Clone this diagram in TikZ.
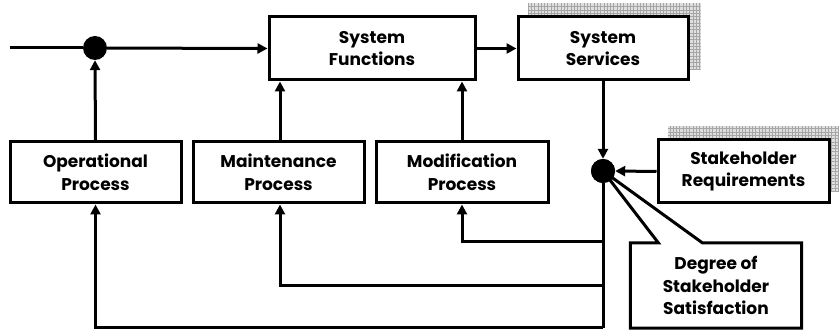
\documentclass[tikz,border=0pt]{standalone}
\usepackage{fontspec}
\setmainfont{Poppins}
\usetikzlibrary{arrows.meta,backgrounds}

\tikzset{
  label font/.style={font=\fontsize{17}{22.5}\selectfont\bfseries},
  box/.style={draw, line width=3pt, fill=white, align=center, label font, inner sep=0pt},
  plainbox/.style={align=center, label font, inner sep=0pt},
  junction/.style={circle, fill=black, minimum size=24pt, inner sep=0pt},
  flow/.style={line width=3pt, -{Triangle[length=10pt,width=10pt]}},
  wire/.style={line width=3pt},
  shade/.style={fill=gray!25},
  hatch/.style={draw=gray!70, line width=0.7pt},
}

\begin{document}
\begin{tikzpicture}[x=1pt, y=-1pt]
  \useasboundingbox (0,0) rectangle (839,331);

  % main blocks
  \node[box, minimum width=206pt, minimum height=63pt] (sf) at (372,48.5) {System\\Functions};
  \node[box, minimum width=170pt, minimum height=63pt] (ss) at (603,48.5) {System\\Services};
  \node[box, minimum width=171pt, minimum height=61pt] (op) at (95.5,172.5) {Operational\\Process};
  \node[box, minimum width=171pt, minimum height=61pt] (mt) at (278.5,172.5) {Maintenance\\Process};
  \node[box, minimum width=172pt, minimum height=61pt] (md) at (462,172.5) {Modification\\Process};
  \node[box, minimum width=171pt, minimum height=63pt] (sr) at (743.5,171.5) {Stakeholder\\Requirements};
  \node[plainbox, minimum width=171pt, minimum height=85pt] (ds) at (716,285.5) {};

  % summing junctions
  \node[junction] (j1) at (95,48) {};
  \node[junction] (j2) at (603,171) {};
  \coordinate (in) at (10,48);
  \coordinate (mx) at (280,0);

  % hatched drop shadows
  \begin{scope}[on background layer]
    \foreach \b in {ss,sr}{
      \coordinate (a) at ([shift={(11,-12)}]\b.south west);
      \coordinate (c) at ([shift={(11,-12)}]\b.north east);
      \fill[shade] (a) rectangle (c);
      \begin{scope}
        \clip (a) rectangle (c);
        \draw[hatch, step=3.3pt] (a) grid (c);
      \end{scope}
    }
  \end{scope}

  % callout outline for the satisfaction box
  \coordinate (p1) at ([xshift=28pt]ds.north west);
  \coordinate (p2) at ([xshift=72pt]ds.north west);
  \draw[wire, line join=miter, fill=white]
    (ds.north west) -- (p1) -- (j2.center) -- (p2) -- (ds.north east)
    -- (ds.south east) -- (ds.south west) -- cycle;
  \node[plainbox] at (ds) {Degree of\\Stakeholder\\Satisfaction};

  % forward path
  \draw[wire] (in) -- (j1);
  \draw[flow] (j1) -- (sf.west);
  \draw[flow] (sf.east) -- (ss.west);
  \draw[flow] (ss.south) -- (j2.north);
  \draw[flow] (sr.west) -- (j2.east);

  % process inputs
  \draw[flow] (op.north) -- (j1.south);
  \draw[flow] (mt.north -| mx) -- (sf.south -| mx);
  \draw[flow] (md.north) -- (md.north |- sf.south);

  % feedback paths
  \coordinate (fb1) at (603,242);
  \coordinate (fb2) at (603,286);
  \coordinate (fb3) at (603,328);
  \draw[wire] (j2.south) -- (fb3);
  \draw[flow] (fb3) -| (op.south);
  \draw[flow] (fb2) -| (mt.south -| mx);
  \draw[flow] (fb1) -| (md.south);

  % redraw junction over the callout tip
  \node[junction] at (j2) {};
\end{tikzpicture}
\end{document}
